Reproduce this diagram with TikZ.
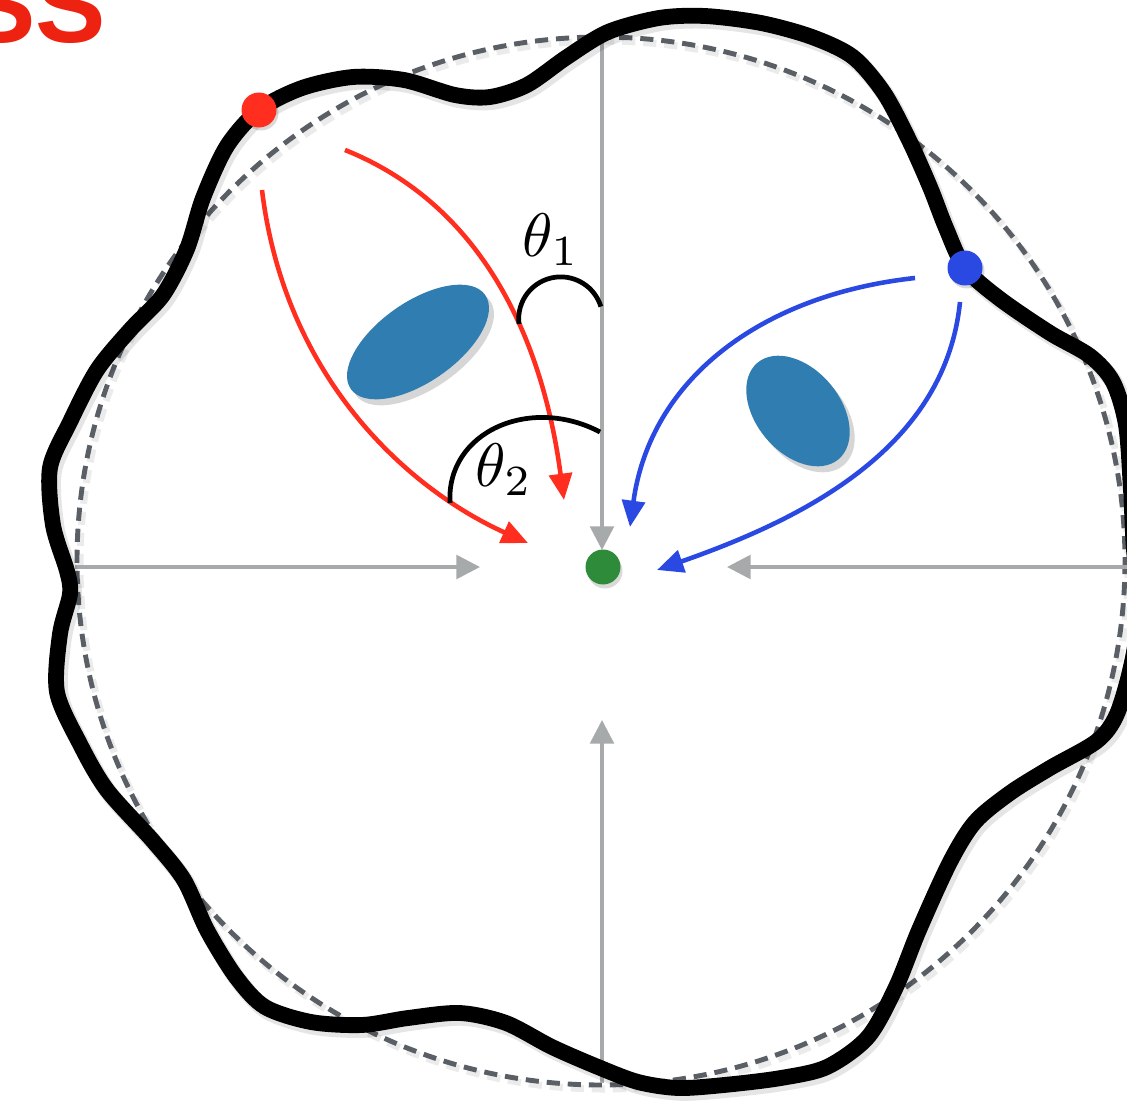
\documentclass[tikz,border=0pt]{standalone}
\usepackage{fontspec}
\newfontfamily\headfont{Liberation Sans}
\usetikzlibrary{arrows.meta}
\definecolor{redc}{HTML}{FF2E1F}
\definecolor{headred}{HTML}{EE2211}
\definecolor{bluec}{HTML}{2A49E3}
\definecolor{greenc}{HTML}{2E8B3A}
\definecolor{blobc}{HTML}{2F7DB1}
\definecolor{axisc}{HTML}{A7AAAA}
\definecolor{dashc}{HTML}{5A5F66}
\begin{document}
\begin{tikzpicture}[x=0.02cm, y=-0.02cm,
  axis/.style={draw=axisc, line width=2.1pt, -{Triangle[length=13.5pt,width=13.5pt]}},
  redarrow/.style={draw=redc, line width=2.6pt, -{Triangle[length=15pt,width=13pt]}},
  bluearrow/.style={draw=bluec, line width=2.6pt, -{Triangle[length=15pt,width=13pt]}},
  anglearc/.style={draw=black, line width=2.7pt},
  dot/.style={circle, inner sep=0pt, minimum size=0.7cm},
  blob/.style={fill=blobc},
  blobshadow/.style={fill=black, opacity=0.16},
  boundary/.style={draw=black, line width=9pt, line join=round},
  guide/.style={draw=dashc, line width=2.8pt, dash pattern=on 7.5pt off 4.5pt},
  lab/.style={inner sep=0pt, scale=3.5},
]
\useasboundingbox (0,0) rectangle (1127,1102);
\clip (0,0) rectangle (1127,1102);

% title fragment
\node[anchor=base east, inner sep=0pt, text=headred,
      font=\headfont\bfseries\fontsize{60}{60}\selectfont] (title) at (106,42) {SS};

% dashed reference circle
\draw[draw=black, opacity=0.08, line width=4pt, dash pattern=on 7.5pt off 4.5pt] (604,565) circle[radius=524];
\draw[guide] (601,561) circle[radius=524];

% axes
\coordinate (topS) at (602,38);   \coordinate (topE) at (602,550);
\coordinate (leftS) at (75,567);  \coordinate (leftE) at (480,567);
\coordinate (rightS) at (1130,567); \coordinate (rightE) at (727,567);
\coordinate (botS) at (602,1083); \coordinate (botE) at (602,720);
\draw[axis] (topS) -- (topE);
\draw[axis] (leftS) -- (leftE);
\draw[axis] (rightS) -- (rightE);
\draw[axis] (botS) -- (botE);

% wavy boundary
\def\wavy{(259,110) (302,88) (353,77) (404,80) (455,95) (490,97) (527,85) (567,57) (608,32) (659,18) (705,16) (761,23) (812,37) (853,57) (884,93) (909,140) (930,187) (946,228) (965,268) (1000,299) (1050,333) (1090,356) (1113,382) (1126,425) (1131,490) (1134,550) (1140,605) (1132,662) (1117,714) (1097,741) (1050,768) (1010,793) (975,822) (950,862) (919,930) (896,987) (868,1037) (827,1067) (781,1078) (724,1085) (678,1088) (638,1082) (598,1067) (552,1047) (506,1023) (460,1013) (408,1018) (362,1025) (311,1022) (265,1007) (236,977) (207,930) (184,880) (153,841) (107,790) (80,744) (57,692) (60,634) (70,594) (67,571) (53,525) (50,468) (70,422) (97,370) (130,330) (163,295) (187,249) (203,198) (227,146)}
\draw[draw=black, opacity=0.10, line width=10pt, line join=round, shift={(3,4)}] plot[smooth cycle, tension=0.5] coordinates \wavy;
\draw[boundary] plot[smooth cycle, tension=0.5] coordinates \wavy;

% obstacles
\fill[blobshadow, rotate around={35:(423,348)}] (423,348) ellipse[x radius=82, y radius=40];
\fill[blob, rotate around={35:(418,342)}] (418,342) ellipse[x radius=82, y radius=40];
\fill[blobshadow, rotate around={-50:(803,417)}] (803,417) ellipse[x radius=63, y radius=42];
\fill[blob, rotate around={-50:(798,411)}] (798,411) ellipse[x radius=63, y radius=42];

% dots
\node[dot, fill=black, opacity=0.15] (redsh) at (261,113) {};
\node[dot, fill=redc] (reddot) at (259,110) {};
\node[dot, fill=black, opacity=0.15] (bluesh) at (967,271) {};
\node[dot, fill=bluec] (bluedot) at (965,268) {};
\node[dot, fill=black, opacity=0.15] (greensh) at (605,571) {};
\node[dot, fill=greenc] (greendot) at (603,567) {};

% red rays
\coordinate (r1s) at (262,190); \coordinate (r1e) at (528,543);
\coordinate (r2s) at (345,150); \coordinate (r2e) at (564,500);
\draw[redarrow] (r1s) .. controls (285,380) and (410,490) .. (r1e);
\draw[redarrow] (r2s) .. controls (470,200) and (540,320) .. (r2e);

% blue rays
\coordinate (b1s) at (915,278); \coordinate (b1e) at (630,527);
\coordinate (b2s) at (960,302); \coordinate (b2e) at (657,570);
\draw[bluearrow] (b1s) .. controls (760,295) and (650,380) .. (b1e);
\draw[bluearrow] (b2s) .. controls (945,450) and (800,520) .. (b2e);

% angle arcs
\coordinate (a1s) at (519,324);
\draw[anglearc] (a1s) arc[start angle=-187, end angle=-17, radius=42];
\coordinate (a2s) at (450,503); \coordinate (a2e) at (600,432);
\draw[anglearc] (a2s) .. controls (446,432) and (530,395) .. (a2e);

% labels
\node[lab] (th1) at (551,240) {$\theta_1$};
\node[lab] (th2) at (504,470) {$\theta_2$};
\end{tikzpicture}
\end{document}
